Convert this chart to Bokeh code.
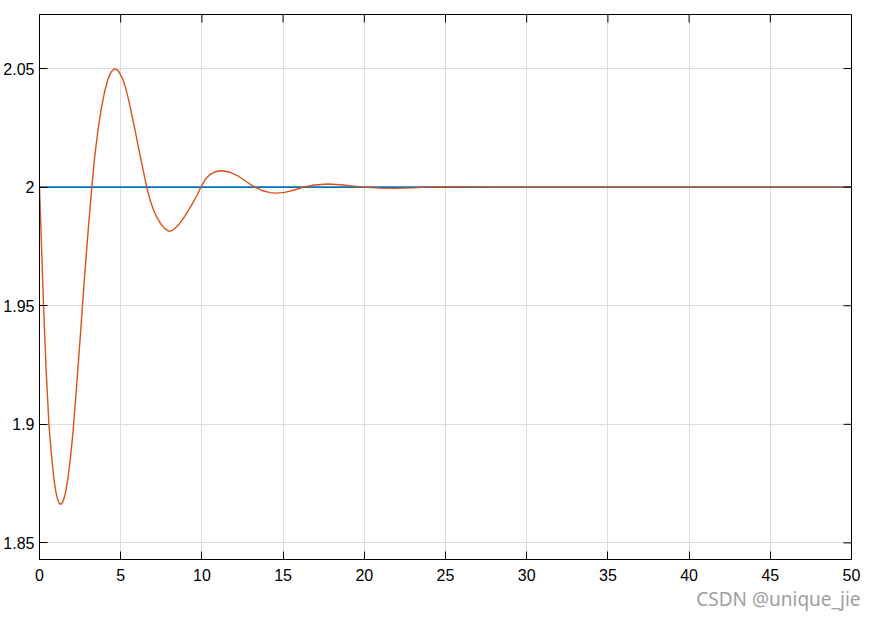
import math
from bokeh.plotting import figure
from bokeh.models import Range1d, FixedTicker, Title
from bokeh.embed import file_html
from bokeh.resources import INLINE

# Reference (setpoint) series
ref_t = [0, 50]
ref_y = [2.0, 2.0]

# Response series
resp_t = [0, 0.1, 0.25, 0.4, 0.58, 0.75, 0.9, 1.0, 1.1, 1.2, 1.3, 1.4, 1.5, 1.6, 1.75,
          1.9, 2.0, 2.1, 2.3, 2.5, 2.64, 2.8, 3.0, 3.22, 3.4, 3.6, 3.8, 4.0, 4.2, 4.4,
          4.62, 4.85, 5.1, 5.3, 5.5, 5.7, 5.9, 6.1, 6.35, 6.6, 6.8, 7.02, 7.2, 7.43,
          7.7, 7.94, 8.2, 8.45, 8.62, 8.9, 9.2, 9.45, 9.7, 9.94, 10.2, 10.5, 10.8,
          11.0, 11.24, 11.7, 12.2, 12.7, 13.25, 13.7, 14.2, 14.62, 15.1, 15.7, 16.26,
          16.9, 17.8, 18.7, 19.9, 21.0, 21.9, 23.0, 24.0, 25.0, 26.5, 28.0, 30.0, 35.0,
          40.0, 50.0]
resp_y = [2.000, 1.980, 1.950, 1.924, 1.900, 1.886, 1.8763, 1.8718, 1.8687, 1.8669,
          1.8662, 1.8668, 1.8685, 1.8712, 1.8772, 1.8855, 1.8922, 1.9000, 1.9175,
          1.9360, 1.9495, 1.9645, 1.9820, 2.0000, 2.0130, 2.0240, 2.0330, 2.0400,
          2.0452, 2.0485, 2.0500, 2.0491, 2.0460, 2.0420, 2.0365, 2.0300, 2.0235,
          2.0165, 2.0082, 2.0000, 1.9948, 1.9904, 1.9877, 1.9849, 1.9826, 1.9814,
          1.9818, 1.9833, 1.9846, 1.9873, 1.9905, 1.9935, 1.9966, 2.0000, 2.0032,
          2.0053, 2.0064, 2.0068, 2.0069, 2.0064, 2.0048, 2.0025, 2.0000, 1.9986,
          1.9977, 1.9975, 1.9978, 1.9988, 2.0000, 2.0009, 2.0013, 2.0009, 2.0000,
          1.9996, 1.9995, 1.9997, 2.0001, 2.0002, 2.0001, 2.0000, 2.0000, 2.0000,
          2.0000, 2.0000]

x_ticks = [0, 5, 10, 15, 20, 25, 30, 35, 40, 45, 50]
y_ticks = [1.85, 1.9, 1.95, 2.0, 2.05]
y_tick_labels = ["1.85", "1.9", "1.95", "2", "2.05"]

x_min, x_max = 0, 50
y_min, y_max = 1.843, 2.0728

FONT = "Liberation Sans"

p = figure(width=867, height=611, output_backend="svg", toolbar_location=None,
           x_range=Range1d(x_min, x_max), y_range=Range1d(y_min, y_max),
           min_border_left=39, min_border_right=16, min_border_top=14,
           min_border_bottom=51)
p.background_fill_color = "white"
p.border_fill_color = "white"
p.outline_line_color = "black"
p.outline_line_width = 1

for ax in (p.xaxis[0], p.yaxis[0]):
    ax.major_tick_in = 8
    ax.major_tick_out = 0
    ax.minor_tick_in = 0
    ax.minor_tick_out = 0
    ax.axis_line_color = "black"
    ax.major_tick_line_color = "black"
    ax.major_label_text_font = FONT
    ax.major_label_text_font_size = "16px"
    ax.major_label_text_color = "black"

p.xaxis[0].ticker = FixedTicker(ticks=x_ticks)
p.xaxis[0].major_label_standoff = 9
p.yaxis[0].ticker = FixedTicker(ticks=y_ticks)
p.yaxis[0].major_label_standoff = 5
p.yaxis[0].major_label_overrides = {t: s for t, s in zip(y_ticks, y_tick_labels)}

p.xgrid.ticker = FixedTicker(ticks=x_ticks)
p.ygrid.ticker = FixedTicker(ticks=y_ticks)
p.xgrid.grid_line_color = "#dcdcdc"
p.ygrid.grid_line_color = "#dcdcdc"

p.line(ref_t, ref_y, line_color="#0072BD", line_width=1.6)
p.line(resp_t, resp_y, line_color="#D95319", line_width=1.4)

# inward ticks on top and right edges
p.ray(x=x_ticks, y=[y_max] * len(x_ticks), length=8, length_units="screen",
      angle=-math.pi / 2, line_color="black", line_width=1)
p.ray(x=[x_max] * len(y_ticks), y=y_ticks, length=8, length_units="screen",
      angle=math.pi, line_color="black", line_width=1)

wm = Title(text="CSDN @unique_jie", align="right", text_font="Noto Sans",
           text_font_size="19px", text_font_style="normal", text_color="#9e9e9e",
           standoff=0, offset=-9)
p.add_layout(wm, "below")

open("out.html", "w").write(file_html(p, INLINE))
